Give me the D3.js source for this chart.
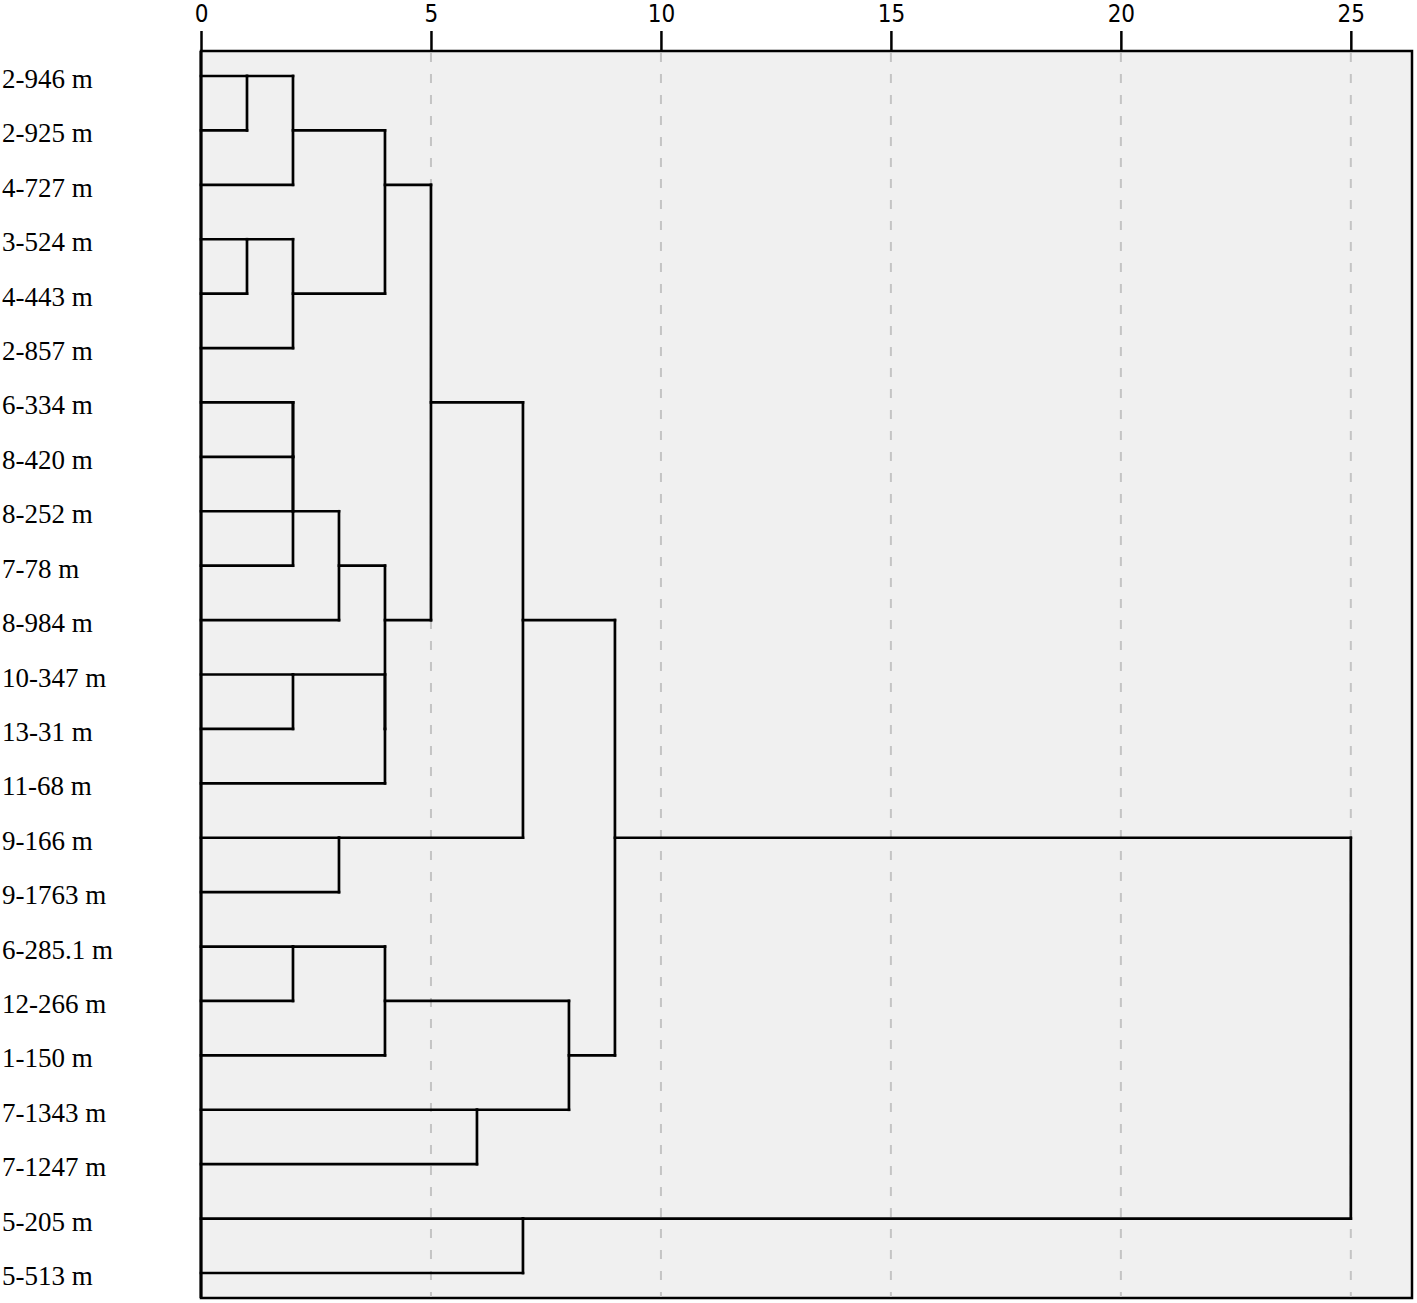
<!DOCTYPE html>
<html>
<head>
<meta charset="utf-8">
<script src="https://cdn.jsdelivr.net/npm/d3@7"></script>
<style>
  body { margin: 0; background: #fff; }
</style>
</head>
<body>
<div id="chart"></div>
<script>
// leaf labels, top to bottom
const labels = ["2-946 m", "2-925 m", "4-727 m", "3-524 m", "4-443 m", "2-857 m",
  "6-334 m", "8-420 m", "8-252 m", "7-78 m", "8-984 m", "10-347 m", "13-31 m",
  "11-68 m", "9-166 m", "9-1763 m", "6-285.1 m", "12-266 m", "1-150 m",
  "7-1343 m", "7-1247 m", "5-205 m", "5-513 m"];

// merges: [childA, childB, rescaled distance]; new cluster ids start at labels.length
const merges = [
  [0, 1, 1], [23, 2, 2], [3, 4, 1], [25, 5, 2], [24, 26, 4],
  [6, 7, 2], [28, 8, 2], [29, 9, 2], [30, 10, 3], [11, 12, 2],
  [32, 13, 4], [31, 33, 4], [27, 34, 5], [14, 15, 3], [35, 36, 7],
  [16, 17, 2], [38, 18, 4], [19, 20, 6], [39, 40, 8], [37, 41, 9],
  [21, 22, 7], [42, 43, 25]
];

const tickValues = [0, 5, 10, 15, 20, 25];

const width = 1417, height = 1303;
const margin = {top: 51, right: 5, bottom: 5, left: 201};

const svg = d3.select("#chart")
  .append("svg")
    .attr("width", width)
    .attr("height", height);

const x = d3.scaleLinear()
  .domain([0, 26.33])
  .range([margin.left, width - margin.right]);

const y = d3.scaleLinear()
  .domain([0, labels.length - 1])
  .range([76, 1273]);

// plot background
svg.append("rect")
  .attr("x", x(0))
  .attr("y", margin.top)
  .attr("width", x.range()[1] - x(0))
  .attr("height", height - margin.bottom - margin.top)
  .attr("fill", "#f0f0f0")
  .attr("stroke", "#000")
  .attr("stroke-width", 2.5);

// dashed grid
svg.selectAll(".grid")
  .data(tickValues.filter(d => d > 0))
  .enter()
  .append("line")
    .attr("x1", d => x(d))
    .attr("x2", d => x(d))
    .attr("y1", margin.top + 2)
    .attr("y2", height - margin.bottom - 1)
    .attr("stroke", "#c4c4c4")
    .attr("stroke-width", 2)
    .attr("stroke-dasharray", "9,12");

// top axis
const axis = svg.append("g")
  .attr("transform", "translate(0," + margin.top + ")")
  .call(d3.axisTop(x).tickValues(tickValues).tickSize(20).tickSizeOuter(0));
axis.select(".domain").remove();
axis.selectAll(".tick line").attr("stroke", "#000").attr("stroke-width", 2.5);
axis.selectAll(".tick text")
  .attr("y", -29)
  .attr("font-family", "'DejaVu Sans', sans-serif")
  .style("font-stretch", "condensed")
  .attr("font-size", 24)
  .attr("fill", "#000");

// leaf labels
svg.selectAll(".lab")
  .data(labels)
  .enter()
  .append("text")
    .attr("x", 2)
    .attr("y", (d, i) => y(i) + 12)
    .attr("font-family", "'Liberation Serif', 'Times New Roman', serif")
    .attr("font-size", 27)
    .attr("fill", "#000")
    .text(d => d);

// node positions (row) and heights
const n = labels.length;
const pos = labels.map((d, i) => i);
const hgt = labels.map(() => 0);
const parentH = [];
merges.forEach(([a, b, h], k) => {
  pos[n + k] = Math.floor((pos[a] + pos[b]) / 2);
  hgt[n + k] = h;
  parentH[a] = h;
  parentH[b] = h;
});

const segs = [];
pos.forEach((p, i) => {
  if (parentH[i] !== undefined)
    segs.push({x1: hgt[i], x2: parentH[i], y1: p, y2: p});
});
merges.forEach(([a, b, h]) => {
  segs.push({x1: h, x2: h, y1: pos[a], y2: pos[b]});
});

svg.selectAll(".seg")
  .data(segs)
  .enter()
  .append("line")
    .attr("x1", d => x(d.x1))
    .attr("x2", d => x(d.x2))
    .attr("y1", d => y(d.y1))
    .attr("y2", d => y(d.y2))
    .attr("stroke", "#000")
    .attr("stroke-width", 2.7)
    .attr("stroke-linecap", "square");

// left border on top
svg.append("line")
  .attr("x1", x(0)).attr("x2", x(0))
  .attr("y1", margin.top).attr("y2", height - margin.bottom)
  .attr("stroke", "#000").attr("stroke-width", 3);
</script>
</body>
</html>
